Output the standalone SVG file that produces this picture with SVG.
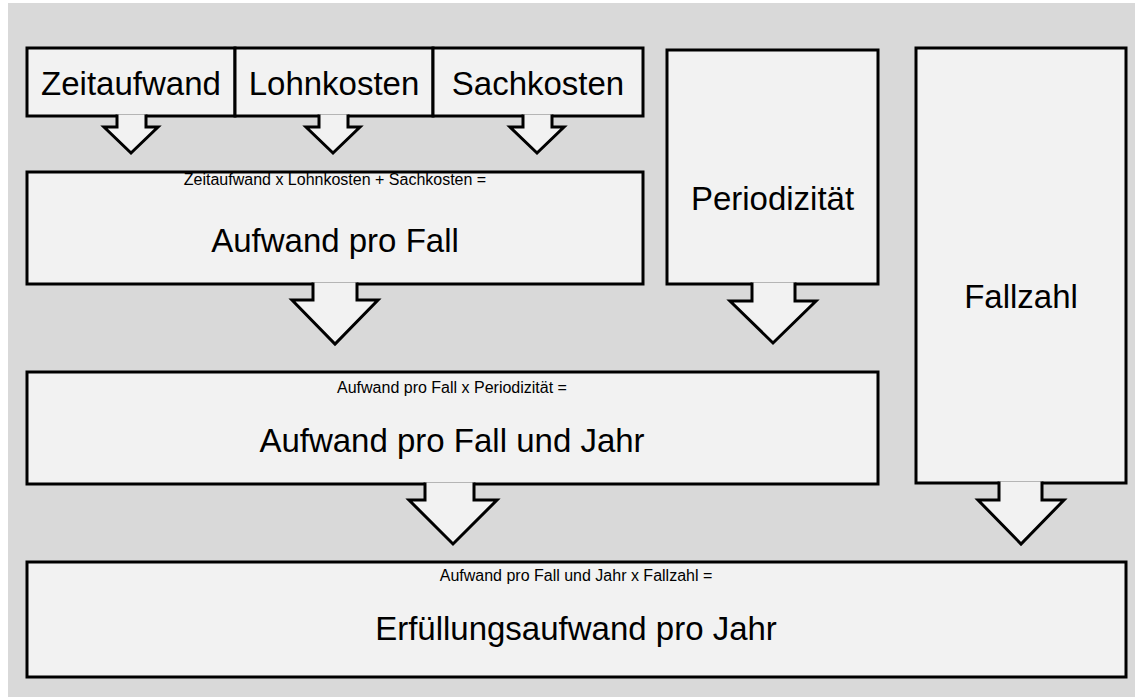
<svg xmlns="http://www.w3.org/2000/svg" width="1135" height="697" viewBox="0 0 1135 697">
<style>
.box{fill:#f2f2f2;stroke:#000;stroke-width:3;}
.arr{fill:#f2f2f2;stroke:#000;stroke-width:3;stroke-linejoin:miter;}
.big{font-family:"Liberation Sans",Arial,sans-serif;font-size:33px;fill:#000;text-anchor:middle;}
.small{font-family:"Liberation Sans",Arial,sans-serif;font-size:16px;fill:#000;text-anchor:middle;}
</style>
<rect x="0" y="0" width="1135" height="697" fill="#ffffff"/>
<rect x="8" y="3" width="1127" height="694" fill="#d9d9d9"/>
<g id="zeitaufwand">
<rect class="box" x="27" y="48" width="208" height="68"/>
<text class="big" x="131" y="95">Zeitaufwand</text>
</g>
<g id="lohnkosten">
<rect class="box" x="235" y="48" width="198" height="68"/>
<text class="big" x="334" y="95">Lohnkosten</text>
</g>
<g id="sachkosten">
<rect class="box" x="433" y="48" width="210" height="68"/>
<text class="big" x="538" y="95">Sachkosten</text>
</g>
<g id="periodizitaet">
<rect class="box" x="667" y="50" width="211" height="234"/>
<text class="big" x="772.5" y="210">Periodizität</text>
</g>
<g id="fallzahl">
<rect class="box" x="916" y="48" width="210" height="435"/>
<text class="big" x="1021" y="308">Fallzahl</text>
</g>
<g id="aufwand-pro-fall">
<rect class="box" x="27" y="172" width="616" height="112"/>
<text class="small" x="335" y="185">Zeitaufwand x Lohnkosten + Sachkosten =</text>
<text class="big" x="335" y="252">Aufwand pro Fall</text>
</g>
<g id="aufwand-pro-fall-und-jahr">
<rect class="box" x="27" y="372" width="851" height="112"/>
<text class="small" x="452" y="393">Aufwand pro Fall x Periodizität =</text>
<text class="big" x="452" y="452">Aufwand pro Fall und Jahr</text>
</g>
<g id="erfuellungsaufwand">
<rect class="box" x="27" y="562" width="1099" height="115"/>
<text class="small" x="576" y="581">Aufwand pro Fall und Jahr x Fallzahl =</text>
<text class="big" x="576" y="640">Erfüllungsaufwand pro Jahr</text>
</g>
<g id="connectors">
<path class="arr" d="M117,114.5 V127 H104 L131,153 L158,127 H146 V114.5"/>
<path class="arr" d="M319,114.5 V127 H306 L333,153 L360,127 H348 V114.5"/>
<path class="arr" d="M523,114.5 V127 H510 L537,153 L564,127 H552 V114.5"/>
<path class="arr" d="M313,282.5 V300 H292 L335,344 L378,300 H357 V282.5"/>
<path class="arr" d="M752,282.5 V301 H730 L773,343 L816,301 H795 V282.5"/>
<path class="arr" d="M425,482.5 V500 H409 L453,544 L497,500 H474 V482.5"/>
<path class="arr" d="M999,481.5 V500 H978 L1021,544 L1064,500 H1042 V481.5"/>
</g>
</svg>
